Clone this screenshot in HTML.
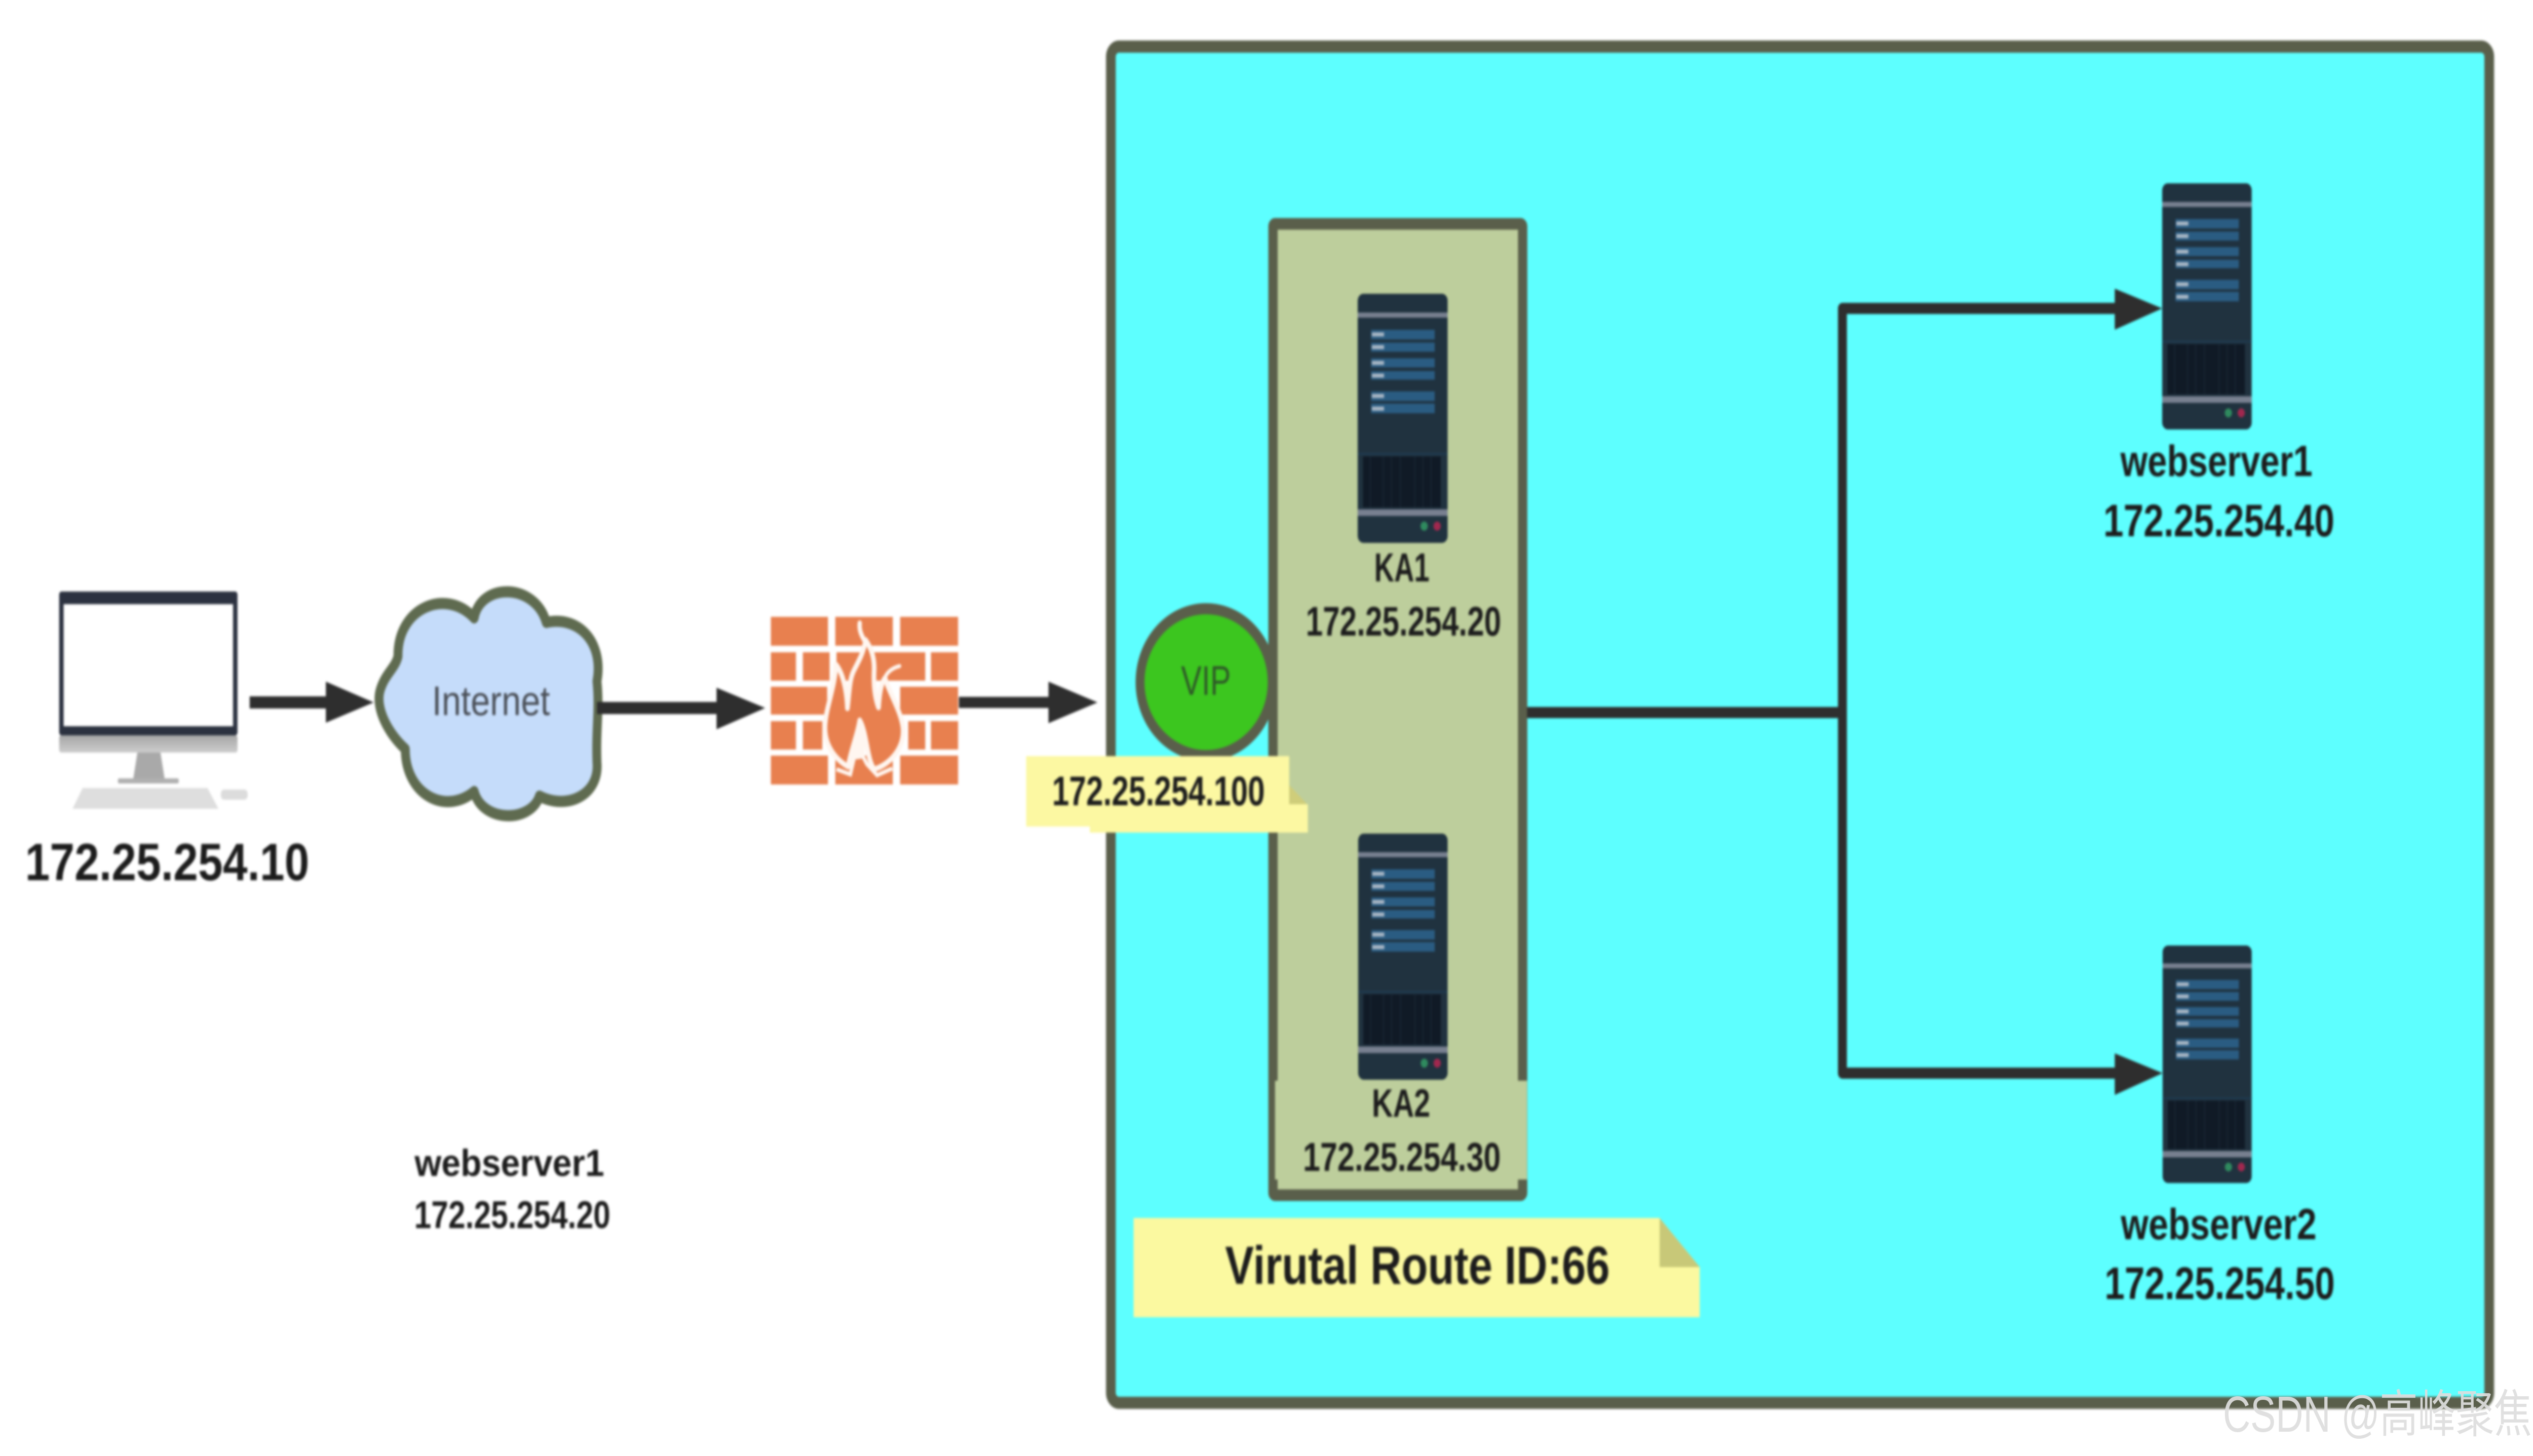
<!DOCTYPE html>
<html lang="en">
<head>
<meta charset="utf-8">
<title>Keepalived network diagram</title>
<style>
html,body{margin:0;padding:0;background:#fff;width:100%;height:100%;overflow:hidden}
svg{display:block;position:fixed;left:0;top:0;width:100vw;height:100vh}
text{font-family:"Liberation Sans","Noto Sans CJK SC",sans-serif}
.b{font-weight:700;fill:#1c1c1c}
</style>
</head>
<body>
<svg xmlns="http://www.w3.org/2000/svg" viewBox="0 0 6250 2875" preserveAspectRatio="none">
<defs>
<filter id="soft" filterUnits="userSpaceOnUse" x="0" y="0" width="6250" height="2875" color-interpolation-filters="sRGB"><feGaussianBlur stdDeviation="2.5"/></filter>
<linearGradient id="chin" x1="0" y1="0" x2="0" y2="1"><stop offset="0" stop-color="#a6a6a6"/><stop offset="1" stop-color="#cdcdcd"/></linearGradient>
<symbol id="srv" viewBox="0 0 222 490" preserveAspectRatio="none">
<rect x="0" y="0" width="222" height="490" rx="14" fill="#20323f"/>
<rect x="0" y="37" width="222" height="10" fill="#788090"/>
<g fill="#2a5c82">
<rect x="33" y="71" width="157" height="19"/><rect x="33" y="96" width="157" height="18"/>
<rect x="33" y="127" width="157" height="18"/><rect x="33" y="152" width="157" height="17"/>
<rect x="33" y="192" width="157" height="19"/><rect x="33" y="216" width="157" height="19"/>
</g>
<g fill="#a8b6c4">
<rect x="35" y="76" width="30" height="8"/><rect x="35" y="101" width="30" height="8"/>
<rect x="35" y="132" width="30" height="8"/><rect x="35" y="157" width="30" height="8"/>
<rect x="35" y="197" width="30" height="8"/><rect x="35" y="222" width="30" height="8"/>
</g>
<rect x="0" y="313" width="222" height="4" fill="#1f3a50"/>
<rect x="13" y="320" width="192" height="100" fill="#101a26"/>
<g fill="#1c2a38">
<rect x="30" y="320" width="2" height="100"/><rect x="62" y="320" width="2" height="100"/><rect x="82" y="320" width="2" height="100"/>
<rect x="104" y="320" width="2" height="100"/><rect x="140" y="320" width="2" height="100"/><rect x="160" y="320" width="2" height="100"/><rect x="180" y="320" width="2" height="100"/>
</g>
<rect x="0" y="424" width="222" height="13" fill="#788090"/>
<circle cx="164" cy="457" r="9" fill="#2f8a5e"/>
<circle cx="196" cy="457" r="9" fill="#a0284e"/>
</symbol>
</defs>

<rect width="6250" height="2875" fill="#fff"/>

<g filter="url(#soft)">
<!-- outer frame -->
<rect x="2741" y="92" width="3401" height="2678" rx="20" fill="#5dffff" stroke="#5a5f4b" stroke-width="24"/>

<!-- computer -->
<rect x="146" y="1168" width="440" height="284" rx="6" fill="#2c3240"/>
<rect x="157" y="1193" width="418" height="241" fill="#fff"/>
<rect x="146" y="1452" width="440" height="34" rx="5" fill="url(#chin)"/>
<path d="M339 1486H396L406 1537H329Z" fill="#a9a9a9"/>
<rect x="291" y="1537" width="150" height="10" rx="3" fill="#b0b0b0"/>
<path d="M204 1556H512L539 1597H179Z" fill="#dedede"/>
<rect x="545" y="1559" width="66" height="20" rx="8" fill="#dcdcdc"/>

<!-- cloud -->
<path d="M1170 1220C1185 1150 1320 1150 1348 1229C1430 1215 1490 1270 1473 1345C1480 1400 1470 1440 1473 1505C1480 1570 1400 1600 1331 1572C1310 1625 1190 1625 1170 1563C1100 1610 1000 1570 1000 1479C960 1450 925 1400 938 1363C950 1330 975 1320 982 1296C980 1200 1100 1160 1170 1220Z" fill="#c5dcfa" stroke="#5f6b50" stroke-width="22" stroke-linejoin="round"/>
<text x="1066" y="1412" font-size="82" fill="#4a4f57" textLength="291" lengthAdjust="spacingAndGlyphs">Internet</text>

<!-- firewall -->
<g fill="#e8804f">
<rect x="1902" y="1218" width="141" height="57"/><rect x="2061" y="1218" width="142" height="57"/><rect x="2221" y="1218" width="143" height="57"/>
<rect x="1902" y="1288" width="62" height="56"/><rect x="1981" y="1288" width="66" height="56"/><rect x="2064" y="1288" width="219" height="56"/><rect x="2297" y="1288" width="67" height="56"/>
<rect x="1902" y="1356" width="139" height="55"/><rect x="2221" y="1356" width="143" height="55"/>
<rect x="1902" y="1424" width="62" height="56"/><rect x="1981" y="1424" width="48" height="56"/><rect x="2241" y="1424" width="42" height="56"/><rect x="2297" y="1424" width="67" height="56"/>
<rect x="1902" y="1492" width="141" height="57"/><rect x="2061" y="1492" width="142" height="57"/><rect x="2221" y="1492" width="143" height="57"/>
</g>
<g transform="translate(1850 1180) scale(.357 .334)">
<path d="M800 250C840 300 860 350 860 420C855 500 860 580 890 650C895 580 905 510 935 475C960 560 1060 690 1060 790C1060 900 960 990 860 1015C810 960 810 800 760 725C745 810 700 900 680 1000C600 960 515 880 520 760C525 650 590 530 595 395C640 440 670 540 675 655C690 540 690 480 720 430C750 380 790 320 800 250Z" fill="#e8804f" stroke="#fff6f0" stroke-width="32" stroke-linejoin="round"/>
<path d="M760 150C755 190 770 220 790 250" fill="none" stroke="#fff6f0" stroke-width="30" stroke-linecap="round"/>
<path d="M935 470C955 435 990 415 1035 405" fill="none" stroke="#fff6f0" stroke-width="24" stroke-linecap="round"/>
<path d="M600 1015L695 1045L725 935H780L810 985L880 1050L985 1010" fill="none" stroke="#fff6f0" stroke-width="24"/>
<path d="M760 740C740 830 725 880 705 960L790 950C800 880 790 800 760 740Z" fill="#fff6f0"/>
</g>

<!-- left arrows -->
<g fill="#2e2e2e">
<rect x="616" y="1375" width="190" height="24"/><path d="M804 1346L922 1387L804 1427Z"/>
<rect x="1473" y="1386" width="297" height="24"/><path d="M1768 1358L1888 1398L1768 1440Z"/>
<rect x="2366" y="1376" width="224" height="22"/><path d="M2587 1346L2708 1387L2587 1428Z"/>
</g>

<text class="b" x="62" y="1738" font-size="104" textLength="701" lengthAdjust="spacingAndGlyphs">172.25.254.10</text>
<text class="b" x="1023" y="2322" font-size="74" textLength="468" lengthAdjust="spacingAndGlyphs">webserver1</text>
<text class="b" x="1022" y="2425" font-size="76" textLength="484" lengthAdjust="spacingAndGlyphs">172.25.254.20</text>

<!-- KA group -->
<rect x="3141" y="442" width="616" height="1918" rx="5" fill="#bdce9c" stroke="#5a5f4b" stroke-width="23"/>
<use href="#srv" x="3350" y="580" width="222" height="492"/>
<text class="b" x="3391" y="1148" font-size="80" textLength="136" lengthAdjust="spacingAndGlyphs">KA1</text>
<text class="b" x="3222" y="1255" font-size="82" textLength="482" lengthAdjust="spacingAndGlyphs">172.25.254.20</text>
<rect x="3146" y="2134" width="622" height="195" fill="#bdce9c"/>
<use href="#srv" x="3351" y="1646" width="221" height="486"/>
<text class="b" x="3385" y="2205" font-size="78" textLength="144" lengthAdjust="spacingAndGlyphs">KA2</text>
<text class="b" x="3215" y="2312" font-size="80" textLength="488" lengthAdjust="spacingAndGlyphs">172.25.254.30</text>

<!-- VIP -->
<ellipse cx="2976" cy="1347" rx="163" ry="145" fill="#3cc61f" stroke="#5a5f4b" stroke-width="22"/>
<text x="2914" y="1372" font-size="82" fill="#2f5a28" textLength="123" lengthAdjust="spacingAndGlyphs">VIP</text>

<!-- VIP note -->
<rect x="2532" y="1493" width="200" height="139" fill="#fcf8a2"/>
<path d="M2689 1493H3181V1588H3227V1644H2689Z" fill="#fcf8a2"/>
<path d="M3181 1550L3225 1588H3181Z" fill="#cfcd7a"/>
<text class="b" x="2596" y="1590" font-size="82" textLength="525" lengthAdjust="spacingAndGlyphs">172.25.254.100</text>

<!-- route id note -->
<path d="M2797 2405H4095L4194 2502V2601H2797Z" fill="#fbf9a0"/>
<path d="M4095 2405L4194 2502H4095Z" fill="#c8c878"/>
<text class="b" x="3023" y="2535" font-size="106" textLength="949" lengthAdjust="spacingAndGlyphs">Virutal Route ID:66</text>

<!-- right connectors -->
<g fill="none" stroke="#2e2e2e" stroke-width="22" stroke-linejoin="round">
<path d="M3768 1407H4546"/>
<path d="M5222 609H4546V2119H5222"/>
</g>
<g fill="#2e2e2e">
<path d="M5218 570L5335 609L5218 651Z"/>
<path d="M5218 2080L5336 2119L5218 2162Z"/>
</g>

<!-- right servers -->
<use href="#srv" x="5335" y="362" width="221" height="486"/>
<text class="b" x="5232" y="940" font-size="86" textLength="474" lengthAdjust="spacingAndGlyphs">webserver1</text>
<text class="b" x="5190" y="1059" font-size="90" textLength="570" lengthAdjust="spacingAndGlyphs">172.25.254.40</text>
<use href="#srv" x="5336" y="1867" width="220" height="469"/>
<text class="b" x="5233" y="2447" font-size="86" textLength="483" lengthAdjust="spacingAndGlyphs">webserver2</text>
<text class="b" x="5193" y="2565" font-size="90" textLength="568" lengthAdjust="spacingAndGlyphs">172.25.254.50</text>
</g>

<!-- watermark -->
<text x="5485" y="2827" font-size="100" fill="#dedede" opacity=".92" textLength="762" lengthAdjust="spacingAndGlyphs">CSDN @高峰聚焦</text>
</svg>
</body>
</html>
